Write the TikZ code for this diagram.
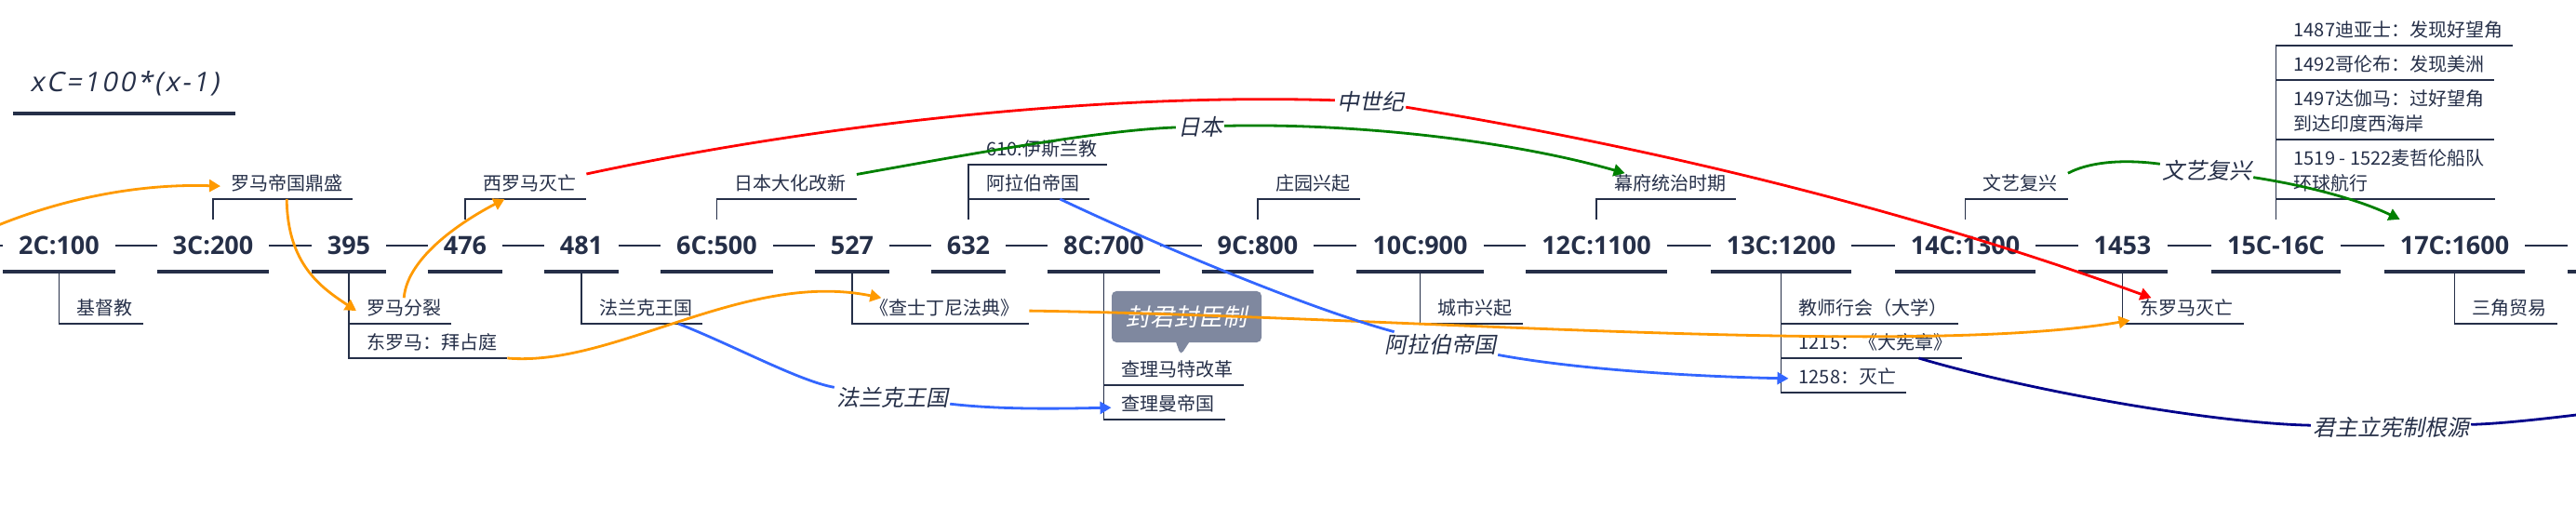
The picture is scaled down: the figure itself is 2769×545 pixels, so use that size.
\documentclass[tikz,border=0pt]{standalone}
\usepackage{fontspec}
\setmainfont{Noto Sans CJK SC}
\newfontfamily\numfont{Open Sans}
\newfontfamily\slantfont[FakeSlant=0.2]{Noto Sans CJK SC}
\newfontfamily\formfont[FakeSlant=0.2,LetterSpace=9]{Open Sans}
\usetikzlibrary{arrows.meta,shapes.callouts}
\definecolor{ink}{HTML}{252F48}
\definecolor{relorange}{HTML}{FF9A00}
\definecolor{relred}{HTML}{FF0000}
\definecolor{relgreen}{HTML}{008000}
\definecolor{relblue}{HTML}{3366FF}
\definecolor{relnavy}{HTML}{00008B}
\definecolor{notegray}{HTML}{7F889F}
\begin{document}
\begin{tikzpicture}[x=1pt,y=-1pt,
  topic/.style={font=\numfont\bfseries\fontsize{27}{27}\selectfont,text=ink,inner xsep=17pt,inner ysep=0pt,minimum height=56pt},
  item/.style={font=\fontsize{20}{27}\selectfont,text=ink,anchor=south west,inner xsep=11pt,inner ysep=0pt,text height=18pt,text depth=9.4pt},
  formula/.style={font=\formfont\fontsize{29}{29}\selectfont,text=ink,minimum width=239pt,minimum height=64pt,inner sep=0pt},
  note/.style={rectangle callout,rounded corners=5pt,fill=notegray,text=white,font=\slantfont\fontsize{26}{26}\selectfont,minimum width=161pt,minimum height=55pt,inner sep=0pt,callout pointer width=14pt},
  rellabel/.style={font=\slantfont\fontsize{24}{24}\selectfont,text=ink,inner sep=2pt},
  bar/.style={draw=ink,line width=4pt},
  link/.style={draw=ink,line width=1.2pt},
  stem/.style={draw=ink,line width=1.2pt},
  rel/.style={line width=2.8pt,-{Triangle[length=12pt,width=13pt]}}]
  \useasboundingbox (0,0) rectangle (2769,545);
  % formula
  \node[formula] (fm) at (133.5,90) {xC=100*(x-1)};
  \draw[bar] (fm.south west) -- (fm.south east);
  % time line
  \node[topic] (t1) at (63.5,264) {2C:100};
  \node[topic] (t2) at (229,264) {3C:200};
  \node[topic] (t3) at (375,264) {395};
  \node[topic] (t4) at (500,264) {476};
  \node[topic] (t5) at (625,264) {481};
  \node[topic] (t6) at (770.5,264) {6C:500};
  \node[topic] (t7) at (916,264) {527};
  \node[topic] (t8) at (1041,264) {632};
  \node[topic] (t9) at (1186.5,264) {8C:700};
  \node[topic] (t10) at (1352,264) {9C:800};
  \node[topic] (t11) at (1526.5,264) {10C:900};
  \node[topic] (t12) at (1716,264) {12C:1100};
  \node[topic] (t13) at (1914.5,264) {13C:1200};
  \node[topic] (t14) at (2112.5,264) {14C:1300};
  \node[topic] (t15) at (2281.5,264) {1453};
  \node[topic] (t16) at (2446.5,264) {15C-16C};
  \node[topic] (t17) at (2638.5,264) {17C:1600};
  \coordinate (t0) at (-20,264);
  \coordinate (t18) at (2760,264);
  \draw[bar] (t1.south west) -- (t1.south east);
  \draw[bar] (t2.south west) -- (t2.south east);
  \draw[bar] (t3.south west) -- (t3.south east);
  \draw[bar] (t4.south west) -- (t4.south east);
  \draw[bar] (t5.south west) -- (t5.south east);
  \draw[bar] (t6.south west) -- (t6.south east);
  \draw[bar] (t7.south west) -- (t7.south east);
  \draw[bar] (t8.south west) -- (t8.south east);
  \draw[bar] (t9.south west) -- (t9.south east);
  \draw[bar] (t10.south west) -- (t10.south east);
  \draw[bar] (t11.south west) -- (t11.south east);
  \draw[bar] (t12.south west) -- (t12.south east);
  \draw[bar] (t13.south west) -- (t13.south east);
  \draw[bar] (t14.south west) -- (t14.south east);
  \draw[bar] (t15.south west) -- (t15.south east);
  \draw[bar] (t16.south west) -- (t16.south east);
  \draw[bar] (t17.south west) -- (t17.south east);
  \draw[bar] (t18 |- t17.south) -- ++(30,0);
  \draw[link] (t0) -- (t1);
  \draw[link] (t1) -- (t2);
  \draw[link] (t2) -- (t3);
  \draw[link] (t3) -- (t4);
  \draw[link] (t4) -- (t5);
  \draw[link] (t5) -- (t6);
  \draw[link] (t6) -- (t7);
  \draw[link] (t7) -- (t8);
  \draw[link] (t8) -- (t9);
  \draw[link] (t9) -- (t10);
  \draw[link] (t10) -- (t11);
  \draw[link] (t11) -- (t12);
  \draw[link] (t12) -- (t13);
  \draw[link] (t13) -- (t14);
  \draw[link] (t14) -- (t15);
  \draw[link] (t15) -- (t16);
  \draw[link] (t16) -- (t17);
  \draw[link] (t17) -- (t18);
  % events
  \node[item] (c1) at (71.5,348) {基督教};
  \node[item] (c2) at (237,214) {罗马帝国鼎盛};
  \node[item] (c3a) at (383,348) {罗马分裂};
  \node[item] (c3b) at (383,385) {东罗马：拜占庭};
  \node[item] (c4) at (508,214) {西罗马灭亡};
  \node[item] (c5) at (633,348) {法兰克王国};
  \node[item] (c6) at (778.5,214) {日本大化改新};
  \node[item] (c7) at (924,348) {《查士丁尼法典》};
  \node[item] (c8a) at (1049,214) {阿拉伯帝国};
  \node[item] (c8b) at (1049,177) {610:伊斯兰教};
  \node[note,callout absolute pointer={(1269,382)}] (cb) at (1275.5,340.5) {封君封臣制};
  \node[item] (c9a) at (1194.5,414) {查理马特改革};
  \node[item] (c9b) at (1194.5,451) {查理曼帝国};
  \node[item] (c10) at (1360,214) {庄园兴起};
  \node[item] (c11) at (1534.5,348) {城市兴起};
  \node[item] (c12) at (1724,214) {幕府统治时期};
  \node[item] (c13a) at (1922.5,348) {教师行会（大学）};
  \node[item] (c13b) at (1922.5,385) {1215：《大宪章》};
  \node[item] (c13c) at (1922.5,422) {1258：灭亡};
  \node[item] (c14) at (2120.5,214) {文艺复兴};
  \node[item] (c15) at (2289.5,348) {东罗马灭亡};
  \node[item,align=left] (c16a) at (2454.5,214) {1519 - 1522麦哲伦船队\\环球航行};
  \node[item,align=left] (c16b) at (2454.5,150) {1497达伽马：过好望角\\到达印度西海岸};
  \node[item] (c16c) at (2454.5,86) {1492哥伦布：发现美洲};
  \node[item] (c16d) at (2454.5,49) {1487迪亚士：发现好望角};
  \node[item] (c17) at (2646.5,348) {三角贸易};
  \draw[stem] (t1.south) |- (c1.south east);
  \draw[stem] (t2.north) |- (c2.south east);
  \draw[stem] (t3.south) |- (c3b.south east);
  \draw[stem] (t3.south |- c3a.south) -- (c3a.south east);
  \draw[stem] (t4.north) |- (c4.south east);
  \draw[stem] (t5.south) |- (c5.south east);
  \draw[stem] (t6.north) |- (c6.south east);
  \draw[stem] (t7.south) |- (c7.south east);
  \draw[stem] (t8.north) |- (c8b.south east);
  \draw[stem] (t8.north |- c8a.south) -- (c8a.south east);
  \draw[stem] (t9.south) |- (c9b.south east);
  \draw[stem] (t9.south |- c9a.south) -- (c9a.south east);
  \draw[stem] (t10.north) |- (c10.south east);
  \draw[stem] (t11.south) |- (c11.south east);
  \draw[stem] (t12.north) |- (c12.south east);
  \draw[stem] (t13.south) |- (c13c.south east);
  \draw[stem] (t13.south |- c13a.south) -- (c13a.south east);
  \draw[stem] (t13.south |- c13b.south) -- (c13b.south east);
  \draw[stem] (t14.north) |- (c14.south east);
  \draw[stem] (t15.south) |- (c15.south east);
  \draw[stem] (t16.north) |- (c16d.south east);
  \draw[stem] (t16.north |- c16a.south) -- (c16a.south east);
  \draw[stem] (t16.north |- c16b.south) -- (c16b.south east);
  \draw[stem] (t16.north |- c16c.south) -- (c16c.south east);
  \draw[stem] (t17.south) |- (c17.south east);
  % relations
  \node[rellabel] (lab1) at (1473,109) {中世纪};
  \node[rellabel] (lab2) at (1290,136) {日本};
  \node[rellabel] (lab3) at (2372,183) {文艺复兴};
  \node[rellabel] (lab4) at (959,427) {法兰克王国};
  \node[rellabel] (lab5) at (1548,370) {阿拉伯帝国};
  \node[rellabel] (lab6) at (2570,459) {君主立宪制根源};
  \coordinate (r0) at (-40,259);
  \coordinate (r1) at (2820,440);
  \draw[rel,relorange] (r0) .. controls (50,215) and (146,197) .. (c2.west);
  \draw[rel,relorange] (c2.south) .. controls (309,284) and (345,309) .. (c3a.west);
  \draw[rel,relorange] (c3a.north) .. controls (438,275) and (500,236) .. (c4);
  \draw[rel,relorange] (c3b.south east) .. controls (660,395) and (800,290) .. (c7);
  \draw[rel,relorange] (c7.east) .. controls (1500,340) and (2050,385) .. (c15);
  \draw[rel,relred] (c4) .. controls (882,133) and (1187,100) .. (lab1)
    (lab1) .. controls (1769,157) and (2045,223) .. (c15);
  \draw[rel,relgreen] (c6) .. controls (1030,168) and (1180,140) .. (lab2)
    (lab2) .. controls (1450,132) and (1620,150) .. (c12);
  \draw[rel,relgreen] (c14.north east) .. controls (2250,172) and (2290,172) .. (lab3)
    (lab3) .. controls (2470,198) and (2530,212) .. (t17);
  \draw[rel,relblue] (c5) .. controls (790,372) and (860,410) .. (lab4)
    (lab4) .. controls (1080,441) and (1150,439) .. (c9b);
  \draw[rel,relblue] (c8a) .. controls (1230,257) and (1400,330) .. (lab5)
    (lab5) .. controls (1700,398) and (1830,405) .. (c13c);
  \draw[rel,relnavy] (c13b) .. controls (2180,420) and (2380,455) .. (lab6)
    (lab6) .. controls (2700,455) and (2760,447) .. (r1);
\end{tikzpicture}
\end{document}
